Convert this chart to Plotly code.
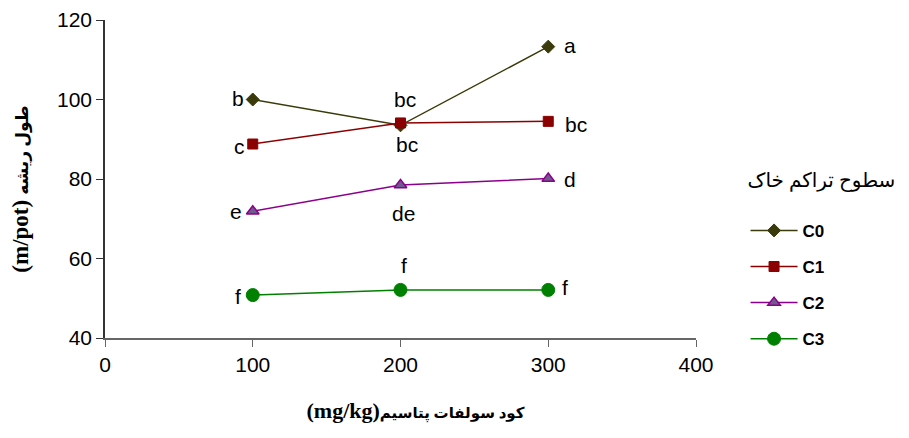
import plotly.graph_objects as go

x_vals = [100, 200, 300]
series_names = ["C0", "C1", "C2", "C3"]
c0 = [100.0, 93.5, 113.3]
c1 = [88.8, 94.1, 94.5]
c2 = [71.9, 78.5, 80.1]
c3 = [50.8, 52.1, 52.1]
labels_c0 = ["b", "bc", "a"]
labels_c1 = ["c", "bc", "bc"]
labels_c2 = ["e", "de", "d"]
labels_c3 = ["f", "f", "f"]
y_ticks = [40, 60, 80, 100, 120]
x_ticks = [0, 100, 200, 300, 400]

# style: pixel offsets of the significance letters relative to their points
label_shifts = [
    [(-15, 1), (4, 26), (22, 1)],
    [(-13, -2), (6, -22), (28, -3)],
    [(-17, 0), (3, -29), (22, -1)],
    [(-15, -1), (3, 24), (17, 2)],
]

styles = [
    (dict(symbol="diamond", size=10, color="#3a3a0a", line=dict(color="#3a3a0a", width=1)), "#3a3a0a"),
    (dict(symbol="square", size=10, color="#8b0000", line=dict(color="#8b0000", width=1)), "#8b0000"),
    (dict(symbol="triangle-up", size=11, color="#6e5a8c", line=dict(color="#8b008b", width=1.5)), "#8b008b"),
    (dict(symbol="circle", size=13, color="#008000", line=dict(color="#008000", width=1)), "#008000"),
]
values = [c0, c1, c2, c3]
labels = [labels_c0, labels_c1, labels_c2, labels_c3]

fig = go.Figure()
annotations = []
for i, vals in enumerate(values):
    mk, col = styles[i]
    fig.add_trace(go.Scatter(
        x=x_vals, y=vals, name=series_names[i], legendgroup=series_names[i],
        mode="lines+markers", line=dict(color=col, width=1.5), marker=mk,
    ))
    for j, xv in enumerate(x_vals):
        dx, dy = label_shifts[i][j]
        annotations.append(dict(
            x=xv, y=vals[j], text=labels[i][j], showarrow=False,
            xshift=dx, yshift=dy, xanchor="center", yanchor="middle",
            font=dict(family="Liberation Sans, Arial", size=21, color="black"),
        ))

fig.update_layout(
    width=901, height=430,
    margin=dict(l=97, r=212, t=12, b=100),
    plot_bgcolor="white", paper_bgcolor="white",
    font=dict(family="Liberation Sans, Arial", size=21, color="black"),
    annotations=annotations,
    xaxis=dict(range=[0, 400], tickvals=x_ticks, showgrid=False, zeroline=False,
               showline=True, linecolor="#666", linewidth=1.5, ticks="outside",
               ticklen=7, tickcolor="#666", automargin=False,
               title=dict(text="&nbsp;&nbsp;&nbsp;&nbsp;&nbsp;&nbsp;<b><span style='font-size:22px'>(mg/kg)</span>"
                               "<span style='font-size:15px'>کود سولفات پتاسیم</span></b>",
                          font=dict(family="Liberation Serif, DejaVu Sans", size=20), standoff=29)),
    yaxis=dict(range=[40, 120], tickvals=y_ticks, showgrid=False, zeroline=False,
               showline=True, linecolor="#333", linewidth=1.5, ticks="outside",
               ticklen=7, tickcolor="#333", automargin=False, ticklabeloverflow="allow",
               title=dict(text="<b><span style='font-size:23px'>(m/pot)</span> "
                               "<span style='font-size:17px'>طول ریشه</span></b>&nbsp;&nbsp;&nbsp;&nbsp;",
                          font=dict(family="Liberation Serif, DejaVu Sans", size=20), standoff=34)),
    legend=dict(x=1.082, y=0.557, xanchor="left", yanchor="top",
                traceorder="grouped", tracegroupgap=11, itemwidth=47,
                font=dict(family="Liberation Sans, Arial", size=17, color="black", weight="bold"),
                title=dict(text="سطوح تراکم خاک<br> ", side="top",
                           font=dict(family="Liberation Serif, DejaVu Sans", size=20, weight="normal"))),
)

fig.write_html("out.html")
